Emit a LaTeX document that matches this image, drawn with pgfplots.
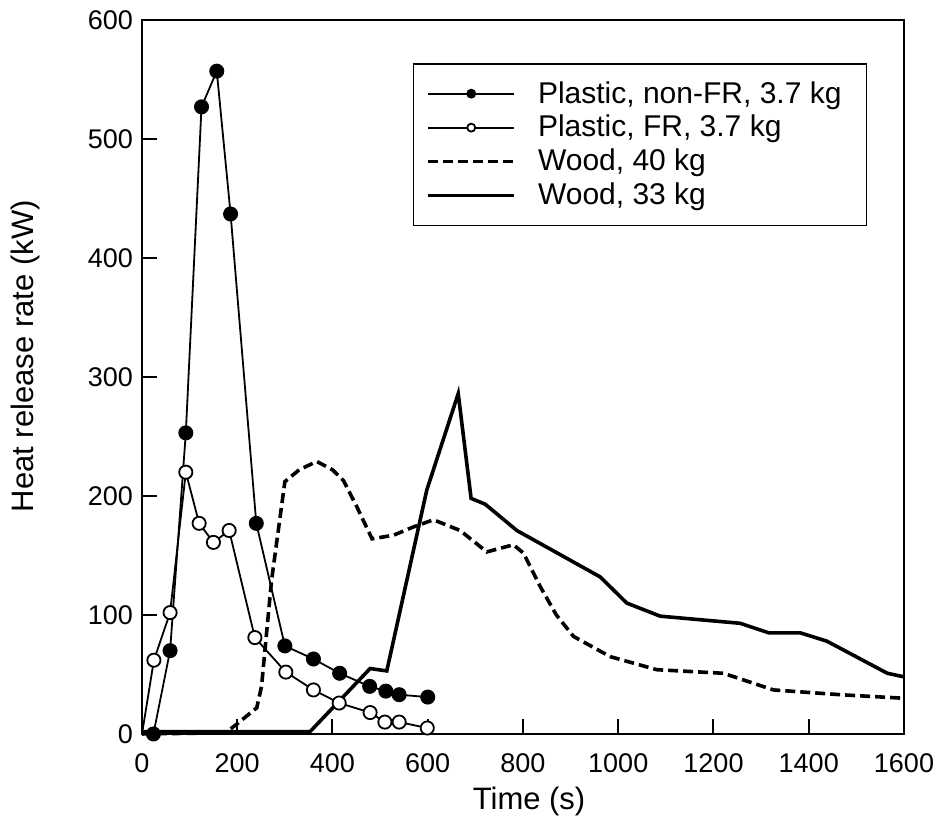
\documentclass[border=0pt]{standalone}
\usepackage{fontspec}
\setmainfont{Liberation Sans}
\usepackage{pgfplots}
\pgfplotsset{compat=1.18}
\begin{document}
\begin{tikzpicture}
\begin{axis}[
  scale only axis, width=381pt, height=357pt,
  xmin=0, xmax=1600, ymin=0, ymax=600,
  xtick={0,200,...,1600}, ytick={0,100,...,600},
  tick align=inside, xtick pos=bottom, ytick pos=left,
  major tick length=7.5pt,
  axis line style={line width=1.2pt},
  every tick/.style={black, line width=1pt},
  /pgf/number format/assume math mode=true,
  /pgf/number format/1000 sep={},
  tick label style={font=\fontsize{13.5}{15}\selectfont},
  xticklabel style={yshift=-6.5pt},
  yticklabel style={xshift=-1pt},
  label style={font=\fontsize{15.5}{18}\selectfont},
  xlabel={Time (s)}, ylabel={Heat release rate (kW)},
  xlabel style={at={(axis description cs:0.508,-0.094)}, anchor=center},
  ylabel style={at={(axis description cs:-0.1535,0.529)}, anchor=center},
  clip=false,
  legend cell align=left,
  legend image code/.code={\draw[mark repeat=2,mark phase=2,#1,mark size=2pt] plot coordinates {(0pt,0pt) (21.5pt,0pt) (43pt,0pt)};},
  legend style={at={(0.952,0.94)}, anchor=north east, draw=black, line width=0.9pt,
    font=\fontsize{15}{17}\selectfont, inner xsep=6.5pt, inner ysep=6.5pt,
    column sep=5pt,
    nodes={inner xsep=6pt, inner ysep=2.3pt}},
]
\addplot[black, line width=0.9pt, mark=*, mark size=3.3pt, mark options={solid, fill=black}] coordinates {
 (24,0) (59,70) (92,253) (125,527) (157,557) (186,437) (240,177) (300,74) (360,63) (415,51) (478,40) (512,36) (540,33) (600,31)};
\addlegendentry{Plastic, non-FR, 3.7 kg}
\addplot[black, line width=0.9pt, mark=*, mark size=3.3pt, mark options={solid, fill=white}] coordinates {
 (25,62) (59,102) (92,220) (120,177) (150,161) (183,171) (237,81) (302,52) (360,37) (414,26) (479,18) (510,10) (540,10) (599,5)};
\addlegendentry{Plastic, FR, 3.7 kg}
\addplot[black, line width=0.9pt, forget plot] coordinates {(0,0) (25,62)};
\addplot[black, line width=1.8pt, dash pattern=on 5pt off 2.5pt] coordinates {
 (0,0) (175,1) (195,7) (241,22) (251,40) (272,129) (300,212) (330,222) (367,229) (400,222) (423,213) (451,191) (483,164) (528,167) (570,174) (612,180) (668,171) (724,153) (780,159) (801,152) (836,124) (870,100) (906,82) (983,65) (1081,54) (1221,51) (1326,37) (1466,33) (1600,30)};
\addlegendentry{Wood, 40 kg}
\addplot[black, line width=1.8pt] coordinates {
 (0,2) (353,2) (479,55) (514,53) (598,205) (664,286) (691,198) (721,193) (787,171) (962,132) (1018,110) (1088,99) (1256,93) (1316,85) (1382,85) (1438,78) (1565,51) (1600,48)};
\addlegendentry{Wood, 33 kg}
\end{axis}
\pgfresetboundingbox
\path ([shift={(-71pt,-44.5pt)}]current axis.south west) rectangle ([shift={(20pt,10pt)}]current axis.north east);
\end{tikzpicture}
\end{document}
